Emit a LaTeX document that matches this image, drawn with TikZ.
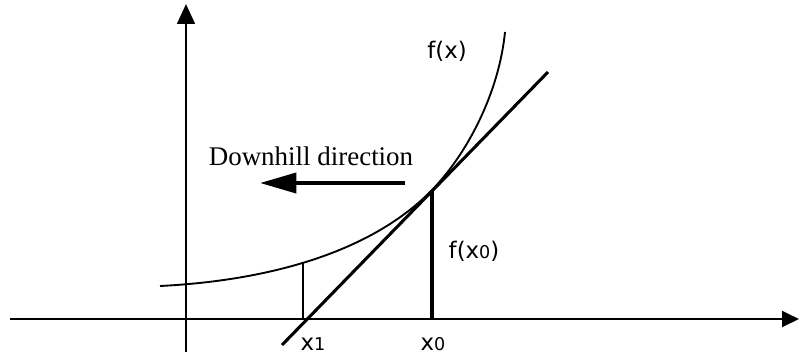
\documentclass[tikz,border=0pt]{standalone}
\usepackage{fontspec}
\setmainfont{DejaVu Sans}
\newfontfamily\downfont{Liberation Serif}
\usetikzlibrary{arrows.meta}
\begin{document}
\begin{tikzpicture}[x=0.03cm, y=-0.03cm,
    axis/.style={line width=2.3pt},
    graph/.style={line width=1.6pt},
    tangent/.style={line width=2.6pt},
    label/.style={font=\fontsize{19.5}{20}\selectfont, inner sep=0pt, anchor=base},
    index/.style={font=\fontsize{15}{15}\selectfont}
]
\useasboundingbox (0,0) rectangle (800,356);
\coordinate (xstart) at (10,319);
\coordinate (xend) at (799,319);
\coordinate (ybot) at (186,352);
\coordinate (ytop) at (186,4);
\coordinate (start) at (160,286);
\coordinate (touch) at (432,190);
\coordinate (top) at (505,32);
\coordinate (tlow) at (282,345);
\coordinate (thigh) at (548,72);
\coordinate (curve1) at (303,262);
\coordinate (foot1) at (303,319);
\coordinate (foot0) at (432,319);
\coordinate (arrstart) at (405,183);
\coordinate (arrend) at (260,183);
\draw[axis, -{Triangle[length=14.5pt, width=13.5pt]}] (xstart) -- (xend);
\draw[axis, -{Triangle[length=17pt, width=15pt]}] (ybot) -- (ytop);
\draw[graph] (start) .. controls (270,280.5) and (372,251.8) .. (touch)
    .. controls (467,154) and (499,93) .. (top);
\draw[tangent] (tlow) -- (thigh);
\draw[graph] (foot1) -- (curve1);
\draw[tangent] (foot0) -- (touch);
\draw[line width=3.5pt, -{Triangle[length=31pt, width=17pt]}] (arrstart) -- (arrend);
\node[label] (fx) at (447,58) {f(x)};
\node[label, font=\downfont\fontsize{23}{23}\selectfont] (down) at (311,165) {Downhill direction};
\node[label] (fx0) at (474,258) {f(x{\fontsize{15}{15}\selectfont 0})};
\node[label] (x1) at (313,350) {x{\fontsize{15}{15}\selectfont 1}};
\node[label] (x0) at (433,350) {x{\fontsize{15}{15}\selectfont 0}};
\end{tikzpicture}
\end{document}
